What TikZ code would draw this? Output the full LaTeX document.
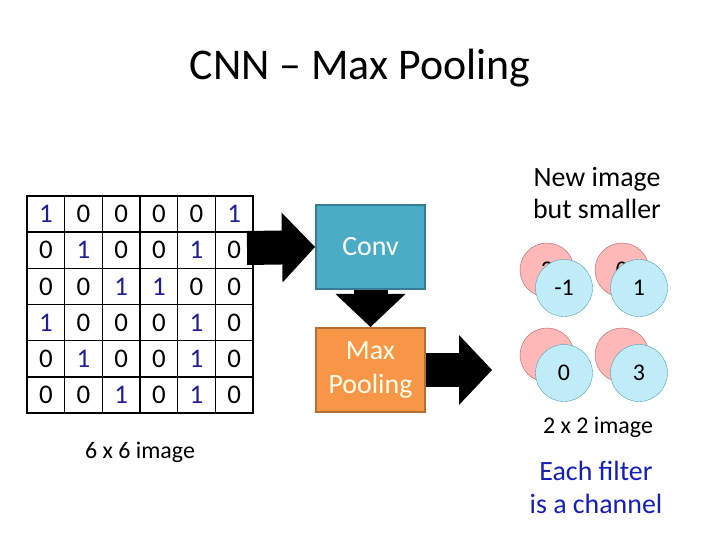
\documentclass[tikz,border=0pt]{standalone}
\usepackage{fontspec}
\setmainfont{Carlito}
\usetikzlibrary{arrows.meta,calc,positioning}

\definecolor{convfill}{RGB}{75,172,198}
\definecolor{convline}{RGB}{53,125,145}
\definecolor{poolfill}{RGB}{247,150,70}
\definecolor{poolline}{RGB}{182,109,49}
\definecolor{onecol}{RGB}{30,30,150}
\definecolor{notecol}{RGB}{20,30,185}
\definecolor{redfill}{RGB}{255,184,184}
\definecolor{redline}{RGB}{185,95,95}
\definecolor{bluefill}{RGB}{192,236,248}
\definecolor{blueline}{RGB}{80,160,185}

\tikzset{
  cell/.style={draw, line width=1.5bp, minimum width=37.67bp, minimum height=36.17bp,
    inner sep=0pt, font=\fontsize{27}{32}\selectfont},
  layerbox/.style={draw, line width=2bp, minimum width=109bp, minimum height=84bp,
    inner sep=0pt, align=center, text=white, font=\fontsize{28}{34}\selectfont},
  blockarrow/.style={line width=34bp, -{Triangle[length=33bp, width=70bp, line width=0pt]}},
  redcircle/.style={circle, draw=redline, fill=redfill, minimum size=54bp, inner sep=0pt,
    font=\fontsize{24}{28}\selectfont},
  bluecircle/.style={circle, draw=blueline, fill=bluefill, minimum size=57bp, inner sep=0pt,
    font=\fontsize{24}{28}\selectfont},
  note/.style={align=center, font=\fontsize{28}{33}\selectfont},
  caption/.style={font=\fontsize{24}{28}\selectfont}
}

\begin{document}
\begin{tikzpicture}[x=1bp, y=-1bp]
  \useasboundingbox (0,0) rectangle (720,540);

  % Title
  \node[font=\fontsize{44}{52}\selectfont] (title) at (360,68) {CNN -- Max Pooling};

  % 6 x 6 image
  \foreach \row [count=\i] in {{1,0,0,0,0,1},{0,1,0,0,1,0},{0,0,1,1,0,0},
                               {1,0,0,0,1,0},{0,1,0,0,1,0},{0,0,1,0,1,0}} {
    \foreach \v [count=\j] in \row {
      \ifnum\v=1 \def\col{onecol}\else\def\col{black}\fi
      \node[cell, text=\col] (c-\i-\j) at ({27+37.67*(\j-0.5)},{196+36.17*(\i-0.5)}) {\v};
    }
  }
  \node[caption] (imglabel) at (140,452) {6 x 6 image};

  % Layers
  \node[layerbox, fill=convfill, draw=convline] (conv) at (370.5,247) {Conv};
  \node[layerbox, fill=poolfill, draw=poolline, text=white!92!yellow] (pool) at (370.5,370) {Max\\Pooling};

  % Block arrows
  \coordinate (inp) at (247,248);
  \coordinate (outp) at (492,370);
  \draw[blockarrow] (inp) -- (conv.west);
  \draw[blockarrow] (conv.south) -- (pool.north);
  \draw[blockarrow] (pool.east) -- (outp);

  % 2 x 2 image, two channels
  \foreach \a/\b [count=\k] in {3/-1,0/1,/0,/3} {
    \pgfmathsetmacro{\cx}{\k==1||\k==3 ? 547 : 622}
    \pgfmathsetmacro{\cy}{\k<3 ? 270 : 355}
    \node[redcircle] (r-\k) at (\cx,\cy) {\a};
    \node[bluecircle] (b-\k) at ($(r-\k)+(17,18)$) {\b};
  }

  \node[note] (newimg) at (597,193) {New image\\but smaller};
  \node[caption] (smalllabel) at (598,427) {2 x 2 image};
  \node[note, text=notecol] (channel) at (596,487) {Each filter\\is a channel};
\end{tikzpicture}
\end{document}
